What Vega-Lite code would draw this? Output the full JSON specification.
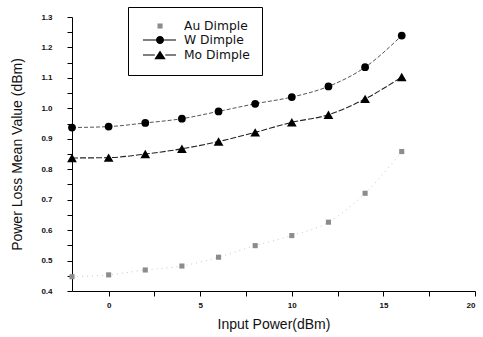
{
  "$schema": "https://vega.github.io/schema/vega-lite/v6.json",
  "autosize": "none",
  "width": 403,
  "height": 274,
  "padding": {"left": 72, "top": 17, "right": 8, "bottom": 46},
  "background": "white",
  "config": {
    "view": {"stroke": null},
    "font": "Liberation Sans",
    "axis": {"grid": false, "domainColor": "black", "tickColor": "black", "labelColor": "#111", "labelFont": "Liberation Sans", "labelFontWeight": "bold", "labelFontSize": 8, "titleFont": "Liberation Sans", "titleFontWeight": "normal", "titleFontSize": 14, "titleColor": "#111", "tickSize": 5}
  },
  "data": {"values": [
    {"series": "Au Dimple", "x": -2, "y": 0.447},
    {"series": "Au Dimple", "x": 0, "y": 0.453},
    {"series": "Au Dimple", "x": 2, "y": 0.469},
    {"series": "Au Dimple", "x": 4, "y": 0.482},
    {"series": "Au Dimple", "x": 6, "y": 0.511},
    {"series": "Au Dimple", "x": 8, "y": 0.549},
    {"series": "Au Dimple", "x": 10, "y": 0.582},
    {"series": "Au Dimple", "x": 12, "y": 0.626},
    {"series": "Au Dimple", "x": 14, "y": 0.721},
    {"series": "Au Dimple", "x": 16, "y": 0.858},
    {"series": "W Dimple", "x": -2, "y": 0.937},
    {"series": "W Dimple", "x": 0, "y": 0.940},
    {"series": "W Dimple", "x": 2, "y": 0.952},
    {"series": "W Dimple", "x": 4, "y": 0.966},
    {"series": "W Dimple", "x": 6, "y": 0.990},
    {"series": "W Dimple", "x": 8, "y": 1.015},
    {"series": "W Dimple", "x": 10, "y": 1.037},
    {"series": "W Dimple", "x": 12, "y": 1.072},
    {"series": "W Dimple", "x": 14, "y": 1.135},
    {"series": "W Dimple", "x": 16, "y": 1.239},
    {"series": "Mo Dimple", "x": -2, "y": 0.837},
    {"series": "Mo Dimple", "x": 0, "y": 0.838},
    {"series": "Mo Dimple", "x": 2, "y": 0.850},
    {"series": "Mo Dimple", "x": 4, "y": 0.867},
    {"series": "Mo Dimple", "x": 6, "y": 0.891},
    {"series": "Mo Dimple", "x": 8, "y": 0.921},
    {"series": "Mo Dimple", "x": 10, "y": 0.954},
    {"series": "Mo Dimple", "x": 12, "y": 0.979},
    {"series": "Mo Dimple", "x": 14, "y": 1.031},
    {"series": "Mo Dimple", "x": 16, "y": 1.103}
  ]},
  "encoding": {
    "x": {"field": "x", "type": "quantitative", "scale": {"domain": [-2, 20], "nice": false, "zero": false},
      "axis": {"title": "Input Power(dBm)", "values": [0, 2.5, 5, 7.5, 10, 12.5, 15, 17.5, 20], "labelExpr": "datum.value % 5 == 0 ? format(datum.value, 'd') : ''", "labelPadding": 5, "titlePadding": 8,
        "encode": {"ticks": {"y2": {"value": {"expr": "(round(datum.value*10) % 50) == 0 ? 5 : 3"}}}}}},
    "y": {"field": "y", "type": "quantitative", "scale": {"domain": [0.4, 1.3], "nice": false, "zero": false},
      "axis": {"title": "Power Loss Mean Value (dBm)", "values": [0.4, 0.45, 0.5, 0.55, 0.6, 0.65, 0.7, 0.75, 0.8, 0.85, 0.9, 0.95, 1.0, 1.05, 1.1, 1.15, 1.2, 1.25, 1.3], "labelExpr": "(round(datum.value*100) % 10) == 0 ? format(datum.value, '.1f') : ''", "labelPadding": 15, "titlePadding": 16,
        "encode": {"ticks": {"x2": {"value": {"expr": "(round(datum.value*100) % 10) == 0 ? -5 : -3"}}}}}}
  },
  "layer": [
    {"transform": [{"filter": "datum.series == 'Au Dimple'"}],
     "mark": {"type": "line", "interpolate": "monotone", "color": "#c8c8c8", "strokeWidth": 1, "strokeDash": [1, 4],
       "point": {"filled": true, "shape": "square", "size": 26, "color": "#8c8c8c", "opacity": 1}}},
    {"transform": [{"filter": "datum.series == 'W Dimple'"}],
     "mark": {"type": "line", "interpolate": "monotone", "color": "#555", "strokeWidth": 1, "strokeDash": [4, 2],
       "point": {"filled": true, "shape": "circle", "size": 60, "color": "black", "opacity": 1}}},
    {"transform": [{"filter": "datum.series == 'Mo Dimple'"}],
     "mark": {"type": "line", "interpolate": "monotone", "color": "#222", "strokeWidth": 1.1, "strokeDash": [6, 2],
       "point": {"filled": true, "shape": "triangle-up", "size": 95, "color": "black", "opacity": 1}}},
    {"mark": {"type": "point", "filled": true, "opacity": 0},
     "encoding": {
       "color": {"field": "series", "type": "nominal",
         "scale": {"domain": ["Au Dimple", "W Dimple", "Mo Dimple"], "range": ["#8c8c8c", "black", "black"]}},
       "shape": {"field": "series", "type": "nominal",
         "scale": {"domain": ["Au Dimple", "W Dimple", "Mo Dimple"], "range": ["M1.75,-0.42H2.6V0.42H1.75Z", "M-0.67,-0.08H1.5V0.08H-0.67Z M2.84,-0.08H4.83V0.08H2.84Z M1.5,0A0.67,0.67 0 1,1 2.84,0A0.67,0.67 0 1,1 1.5,0Z", "M-0.67,-0.08H1.3V0.08H-0.67Z M3.05,-0.08H4.83V0.08H3.05Z M2.17,-0.75L3.12,0.7L1.22,0.7Z"]},
         "legend": {"title": null, "orient": "none", "legendX": 56, "legendY": -10, "strokeColor": "black", "fillColor": "white", "padding": 12, "labelFont": "DejaVu Sans", "labelFontSize": 12.3, "labelColor": "#111", "symbolSize": 144, "symbolOpacity": 1, "rowPadding": -2.5, "labelOffset": 30}}
     }}
  ]
}
